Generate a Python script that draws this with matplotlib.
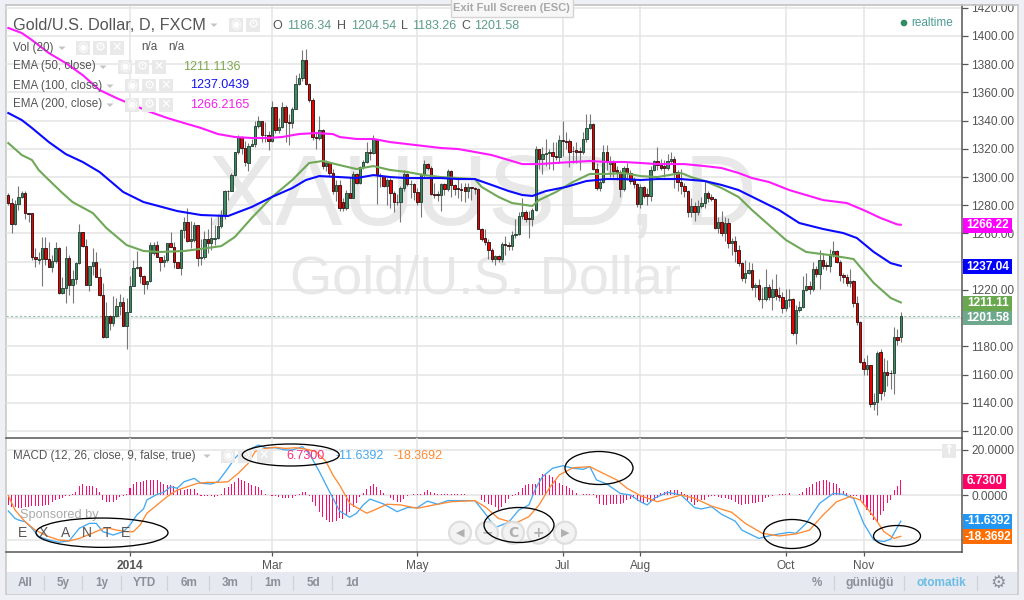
import matplotlib
matplotlib.use("Agg")
import matplotlib.pyplot as plt
from matplotlib.patches import Rectangle, Ellipse, Circle, Polygon
import numpy as np

plt.rcParams['font.family'] = ['Liberation Sans', 'DejaVu Sans']

# ---------- data ----------
opens = [1287.4,1281.5,1266.5,1280.8,1285.7,1288.6,1274.3,1274.3,1243,1241.5,
 1242,1250,1241.6,1236.4,1240.7,1250,1217.9,1221.7,1242.3,1223.8,
 1227.4,1238.8,1260.8,1251.1,1223.8,1237.1,1239.5,1229.3,1216.5,1186.6,
 1201.8,1196.8,1201.8,1208.9,1211.7,1194.4,1204.4,1222.9,1235.4,1236.6,
 1230,1224,1226.4,1245.9,1251.6,1243.5,1240,1241,1253,1250.6,
 1240,1235.7,1262.5,1268.4,1254.9,1255.4,1265.8,1242.3,1243,1255.8,
 1253,1256.4,1256.6,1265.6,1273.2,1290,1290,1301.2,1317.8,1328.2,
 1320.6,1310,1322,1323.5,1336.3,1339.6,1330,1329.7,1325.9,1349.8,
 1333.2,1335.6,1349.8,1338.9,1338.4,1348.4,1366.2,1370,1382.8,1366.2,
 1354.6,1328.2,1327.7,1333.5,1307.6,1309.9,1302.8,1289.8,1294.3,1282.5,
 1277.8,1288.4,1285.4,1302.1,1296,1307.3,1310.4,1317.5,1316.8,1326.7,
 1301.2,1300.7,1293.6,1297.9,1288.4,1282.5,1282,1292,1302.1,1295,
 1295,1289.6,1282.5,1302.1,1309,1306.6,1288,1287.9,1287.5,1295,
 1291.7,1304.5,1294.3,1291.9,1291.7,1293,1290.3,1292.7,1292,1291.5,
 1263.4,1256.5,1254,1248,1242,1244,1242,1252.3,1251.6,1251,
 1258.9,1259.4,1272.4,1275.4,1271,1270,1276.6,1319.6,1312.8,1316,
 1316.8,1318,1315,1314,1326.3,1325.5,1325.7,1318.5,1318.9,1318.4,
 1318,1326.7,1334.5,1337.6,1305.5,1292.5,1296.7,1318,1309,1311,
 1304.8,1303.7,1291.5,1306.2,1302.6,1297.9,1295,1280.9,1292.7,1287.7,
 1286.8,1305,1311.4,1308.5,1308,1306.6,1311.4,1312.6,1303.4,1296.8,
 1294,1290.4,1275.5,1279.7,1275.5,1279.7,1281.4,1288.9,1286,1284.2,
 1263.7,1268,1260,1267.2,1253.5,1254.7,1248.2,1239.3,1228.2,1231.7,
 1234,1221.8,1223.3,1213.6,1213.4,1221.8,1215.3,1221,1216.4,1214.8,
 1207,1212.9,1213.4,1189.7,1205.8,1207.7,1220,1222.8,1220.9,1234.6,
 1231,1241.2,1237.7,1237.2,1245.2,1247.6,1240,1230.6,1229,1225.2,
 1226.6,1210.5,1197.5,1169.2,1163.7,1166.6,1138.9,1140.3,1176.2,1148.7,
 1162,1161,1160.9,1186.9,1186.34]
closes = [1281.5,1266.5,1280.8,1285.7,1288.6,1274.3,1274,1243,1241.6,1242,
 1250,1241.6,1236.4,1240.7,1250,1217.9,1221.7,1242.3,1223.8,1227.4,
 1238.8,1260.8,1251.1,1223.8,1237.1,1239.5,1229.3,1216.5,1186.6,1201.8,
 1196.8,1201.8,1208.9,1211.7,1194.4,1204.4,1222.9,1235.4,1236.6,1230,
 1224,1226.4,1251.6,1251.6,1243.5,1240,1241.1,1253,1250.6,1240,
 1235.7,1262.5,1268.4,1254.9,1255.8,1265.8,1242.3,1243,1255.8,1253,
 1256.6,1256.6,1265.6,1273.2,1290,1289.8,1301.6,1317.8,1328.2,1320.6,
 1310.5,1322.3,1323.5,1336.3,1339.6,1330,1329.7,1325.9,1349.8,1333.2,
 1335.6,1349.8,1338.9,1338.4,1348.4,1366.2,1370,1382.8,1366.2,1354.6,
 1328.2,1327.5,1333.5,1307.6,1309.8,1302.8,1289.8,1294.5,1277.8,1277.8,
 1288.4,1285.4,1302.1,1296,1307.3,1310.4,1317.5,1316.8,1326.7,1301.2,
 1300.7,1293.6,1297.9,1288.4,1282.5,1282,1292,1302.1,1295,1295.4,
 1289.6,1282.5,1302.1,1309,1306.6,1288,1287.5,1287.5,1295,1291.7,
 1304.5,1294.3,1291.7,1291.5,1291,1290.3,1292.7,1292,1291.5,1263.4,
 1256,1254,1248,1242,1244,1242,1252.3,1251.6,1251,1258.9,
 1259.4,1272.4,1275.4,1270,1270,1276.6,1319.6,1312.8,1316,1317.2,
 1318,1315,1314.4,1326.3,1325.5,1325,1318,1318.4,1318,1318,
 1326.7,1334.5,1337.6,1305.5,1292.5,1296.7,1318,1310.9,1311,1304.5,
 1303.3,1291.5,1306.2,1302.6,1297.2,1295,1280.9,1292.7,1286.8,1286.8,
 1305,1311.4,1308.5,1306.6,1306.6,1311.4,1312.6,1303.4,1296.8,1293.7,
 1290.4,1275.5,1279.7,1275.5,1279.7,1281.4,1288.5,1285,1284.2,1263.7,
 1268,1260.1,1267.2,1253.5,1254.7,1247.9,1239.3,1228.2,1231.7,1234,
 1221.8,1223.3,1213.4,1213.4,1221.8,1215.3,1221,1215.7,1214.8,1207,
 1212.9,1213.4,1189.7,1205.8,1207.7,1220,1222.8,1220.9,1234.6,1231,
 1241.2,1237.2,1237.2,1245.2,1247.6,1240,1230.6,1229,1225.2,1226.6,
 1210.5,1197.5,1169.2,1163.7,1166.6,1138.9,1140.3,1175,1146.7,1162,
 1160,1160.9,1186.9,1184.5,1201.58]
highs = [1288.6,1285,1284,1293.8,1289.8,1290,1274.8,1274.5,1249.4,1247,
 1257.5,1257.3,1254.2,1244.7,1254.2,1250.2,1229,1251,1244.7,1234,
 1240,1266.5,1261.3,1256,1237.1,1249.4,1246.6,1235.2,1225,1211.5,
 1202,1215.5,1214.3,1217.4,1215,1214.5,1229.8,1241,1247.6,1237,
 1230.5,1226.5,1254.2,1254,1254.7,1243.6,1244.7,1253.2,1261.3,1254.2,
 1240,1263,1272,1278,1269,1268,1266,1256,1262,1263,
 1272,1266,1273,1277,1290.5,1291,1303,1318,1330,1329,
 1325.4,1324,1327,1340,1343,1340,1339,1333,1354,1350,
 1342,1353,1351,1345,1350,1372,1374,1390,1391,1367,
 1356,1331,1343,1334,1312,1310,1306,1298,1298,1285,
 1291,1300,1304,1303,1308,1312,1325,1320,1330,1327,
 1303,1301,1299,1299,1290,1288,1294,1305,1303,1298,
 1296,1292,1303,1312,1310,1308,1296,1290,1296,1296,
 1306,1305,1295,1299,1296,1296,1296,1293,1293,1292,
 1264,1263,1256,1250,1245,1245,1254,1258,1254,1262,
 1270,1275,1285,1277,1276,1278,1322,1320,1321,1327,
 1320,1325,1325,1330,1340,1332,1327,1322,1325,1321,
 1332,1345,1345,1338,1310,1298,1323,1323,1315,1312,
 1308,1305,1308,1310,1305,1300,1296,1295,1294,1292,
 1308,1312,1321,1313,1312,1316,1318,1315,1305,1306,
 1296,1291,1285,1282,1284,1286,1297,1290,1288,1285,
 1272,1276,1272,1271,1257,1258,1252,1240,1241,1240,
 1239,1225,1228,1222,1235,1224,1228,1231,1222,1218.8,
 1221,1221,1214,1209,1212,1230,1232,1226,1240,1237,
 1248,1246,1240,1249,1254.5,1248,1241,1232,1231,1235,
 1227,1216,1198,1172,1174,1167,1147,1177,1178,1172,
 1170,1163,1194,1192,1204.54]
lows = [1280,1260.6,1266,1276.7,1285,1270,1268.4,1241,1236,1238.3,
 1222.9,1237.6,1236,1232.8,1238.8,1217,1217,1210.8,1216.2,1210.8,
 1224,1238.3,1250.6,1223.4,1219.3,1230.5,1229,1215.5,1186,1186,
 1191.3,1194.4,1200.8,1202,1194.2,1178.3,1204.4,1222.6,1235,1225.2,
 1217.4,1221,1225.8,1245,1243.3,1233.5,1236.4,1240,1250.4,1235.2,
 1235.2,1230.5,1256.6,1254.2,1250,1254,1237.3,1237.6,1242,1246,
 1248,1252,1256,1264,1270,1284,1289.8,1301,1316,1316,
 1307.6,1304,1322,1321,1335,1325,1325,1319,1325,1331,
 1331,1335,1325,1323,1335,1348,1365,1368,1365,1353,
 1326,1320,1326,1306,1304,1301,1288,1283,1276,1276,
 1277,1285,1285,1295,1295,1306,1310,1312,1316,1281,
 1293,1293,1280,1278,1275,1280,1268,1290,1294,1285,
 1284,1280,1272,1300,1305,1287,1285,1283,1276,1287,
 1290,1286,1287,1285,1283,1282,1285,1284,1288,1263,
 1255,1252,1242,1240,1238,1240,1240,1245,1248,1248,
 1257,1259,1270,1268,1257,1265,1276,1306,1302,1308,
 1306,1305,1312,1310,1315,1320,1307,1310,1310,1305,
 1316,1325,1334,1305,1291,1290,1296,1305,1300,1300,
 1298,1286,1290,1298,1295,1292,1279,1278,1285,1280,
 1283,1304,1305,1305,1300,1305,1310,1292,1290,1288,
 1286,1272,1272,1269,1273,1278,1278,1282,1283,1263,
 1260,1258,1255,1250,1245,1240,1237,1226,1225,1231,
 1220,1215,1212,1207,1212,1213,1206,1213,1212,1203.4,
 1205,1208,1188,1182,1204,1207,1219,1217,1219,1229,
 1221,1235,1234,1233,1243,1239,1226,1225,1223,1222,
 1208,1195,1168,1160,1160,1137,1135,1131,1142,1145,
 1152,1150,1146,1181,1183.26]

ema200_x = [0,4,7,12,17,22,27,32,37,42,47,52,57,62,67,72,77,81,86,91,96,98,103,108,113,118,123,128,133,138,143,148,152,157,162,167,172,177,182,187,192,197,200,206,211,216,220,225,231,241,248,253,258,263,264]
ema200_y = [1405.7,1402.1,1397.1,1387.9,1380.8,1372.3,1361.7,1356,1351,1346.1,1341.9,1338.3,1334.8,1330.5,1328.4,1327.7,1327.7,1328.4,1330.5,1331.2,1330.5,1328.4,1327,1327,1324.8,1323.4,1322,1320.6,1319.9,1317.8,1315.6,1312.1,1309.2,1309.2,1310,1310.7,1311.4,1310.7,1310.7,1310,1309.2,1309.2,1309.2,1307.8,1306.4,1302.9,1299.3,1296.5,1290.8,1283.7,1281.6,1276.6,1271,1266.4,1266.2]
ema100_x = [0,4,7,12,17,22,27,34,40,50,57,65,72,78,84,88,92,98,103,108,113,118,123,128,133,138,143,148,152,155,159,165,171,177,182,187,192,199,206,211,216,222,228,234,241,247,251,256,261,264]
ema100_y = [1345.4,1340.4,1334.8,1324.8,1316.3,1310.7,1303.6,1289.4,1282.3,1275.9,1273.1,1272.4,1278.8,1285.9,1292.2,1297.9,1300.7,1300,1299.3,1301.4,1300,1299.3,1299.3,1299.3,1298.6,1298.6,1294.4,1290.1,1287.3,1286.6,1290.1,1293,1297.2,1298.6,1298.6,1297.9,1298.6,1298.6,1297.2,1294.4,1290.8,1283.7,1276.6,1267.4,1263.2,1260.3,1256.8,1246.9,1239,1237.04]
ema50_x = [0,4,7,9,12,16,19,25,29,35,40,45,52,59,63,67,72,78,84,89,93,98,103,108,113,118,123,128,133,138,140,145,149,155,157,162,167,172,177,182,187,192,199,202,206,211,216,220,225,230,236,243,250,256,261,264]
ema50_y = [1324.1,1315.6,1312.1,1305,1297.9,1288.7,1282.3,1274.5,1263.9,1251.8,1247.6,1246.9,1247.6,1249.7,1251.1,1257.5,1271,1285.9,1297.9,1310,1311.4,1308.5,1305.7,1307.8,1305,1303.6,1301.4,1300,1299.3,1298.6,1293,1285.9,1281.6,1279.5,1283.7,1289.4,1296.5,1302.2,1302.2,1302.9,1300.7,1300,1302.9,1300,1297.2,1292.2,1285.9,1276.6,1266,1255.4,1246.9,1244.7,1241.9,1224.9,1214.3,1211.11]

macd_x = [0,2,3,5,7,9,12,15,18,21,24,26,28,31,34,36,38,40,41,44,46,48,50,52,55,57,60,62,65,67,69,71,74,76,79,82,84,87,89,92,95,98,101,103,105,107,111,115,118,121,124,127,130,134,138,141,144,148,151,154,156,158,161,164,167,170,172,174,177,181,184,187,189,191,195,199,203,205,208,211,215,217,222,226,231,233,236,240,244,247,250,253,256,259,261,264]
macd_y = [-7.1,-10.4,-11.1,-11.9,-14.8,-18.5,-20,-21,-20.4,-14.8,-12.6,-12.6,-16.3,-17.8,-16.3,-13.3,-8.9,-6.2,-2.2,0.3,1.2,3.7,3,5.9,7.4,5.2,4.9,5.9,11.9,16.3,19.3,20,22.2,21,21,20,20,21.5,18.5,10.4,1.5,-7.1,-9.9,-8.1,-4.4,-1.8,-4,-7.4,-5.6,-5.6,-2.7,-4.1,-2.5,-2.5,-2.5,-8.1,-14.5,-12.1,-6.7,-4.4,3,8.1,11.9,13,11.9,11.4,12.6,6.7,4.9,0.7,0,-3,-4.4,-1.5,1.2,0,-5.6,-6.2,-5.2,-8.6,-11.6,-15.6,-19.3,-17.8,-16.6,-17,-12.6,-3.7,0.7,0.3,-1.5,-12.6,-20,-20.7,-19.6,-11.64]
signal_x = [0,2,5,8,12,15,18,21,24,27,29,32,35,37,39,41,44,47,50,53,56,59,62,65,68,71,73,76,79,82,85,88,91,94,96,98,101,106,109,112,116,121,126,131,138,141,145,150,154,157,160,163,167,172,176,180,183,187,192,199,203,208,214,218,223,228,233,237,241,245,249,252,256,259,262,264]
signal_y = [-0.3,-6.7,-11.9,-15.6,-18.5,-20,-20.4,-19.3,-17.5,-15.6,-14.5,-15.6,-16.3,-16.3,-13.3,-8.1,-4.4,-0.7,2.2,3.7,5.2,5.6,5.6,5.9,9.6,14.1,19.3,20.7,21.2,20.7,21,20.4,19.3,14.8,8.9,4.4,-3.7,-8.1,-6.2,-4.1,-4.4,-5.9,-4.4,-3,-2.5,-5.2,-10.4,-12.6,-9.6,-4.4,3,8.9,12.1,12.6,9.6,6.7,3,-0.3,-3,0,-1.5,-4.9,-7.7,-12.6,-17,-18.2,-17.3,-15.6,-8.9,-3,-0.7,-2.2,-9.6,-16.3,-19.3,-18.37]
hist_vals = [-4.4,-5.2,-5.2,-5.6,-5.6,-5.3,-5.3,-5,-5,-5,
 -4.7,-4.4,-4.4,-3.3,-2.1,-1.8,-1.5,-0.6,-0.3,0.3,
 1.2,3.9,4.7,4.1,3.9,3.9,3.3,1.2,-2.1,-3,
 -3.3,-3.3,-2.1,-0.9,-0.3,0.3,3.3,4.7,5.6,5.9,
 6.2,6.5,6.5,6.8,6.5,5.6,5,4.4,4.4,3.9,
 3.3,2.7,2.4,2.7,2.7,2.7,0.9,-0.3,-0.6,-0.6,
 -0.6,-0.9,-0.3,0.3,3,3.6,4.7,5.9,7.7,6.8,
 6.2,5.3,4.4,4.1,3.6,2.4,0.3,0,-0.3,-0.6,
 -0.9,-1.2,-1.5,-1.5,-1.2,-0.6,0.6,1.5,1.2,-0.3,
 -3.3,-5,-7.4,-9.8,-11.3,-11.9,-11.9,-11.6,-10.1,
 -10.7,-9.2,-7.4,-5.3,-3.6,-0.9,0.9,2.7,3.9,4.7,
 3.6,2.1,0.9,0,-1.2,-2.4,-3,-3,-1.8,-0.6,
 0,0.3,0.3,0.3,1.5,2.4,1.5,0.9,0.3,0.3,
 0.3,0.3,0.6,0.3,0.3,0.3,0.3,0,0,0,
 0,-2.4,-3.3,-3.9,-4.4,-5.3,-6.5,-5.3,-3.6,-1.8,
 -0.3,0.3,1.5,3.3,4.4,4.7,4.7,4.7,7.7,9.2,
 9.5,8.9,8,6.5,5.3,4.4,3.9,3.3,2.4,0.9,
 0,0.3,0.3,0.3,0.3,-1.5,-3.9,-4.4,-4.4,-4.1,
 -4.1,-4.1,-3.9,-3.6,-2.4,-1.8,-1.5,-2.7,-3,-3.6,
 -3,-3,-2.4,-1.5,0.9,1.2,1.8,2.1,2.4,2.1,
 1.2,0.3,
 -2.1,-3.3,-4.4,-3.3,-2.4,-2.1,-0.9,-0.6,-0.3,-0.9,
 -1.2,-1.2,-1.8,-2.1,-3,-4.1,-4.4,-4.1,-3.9,-3.6,
 -3.6,-3.3,-3,-1.5,-0.9,-0.3,0,0.3,0.3,0.3,
 0.9,0,0,0.3,1.5,3,3.6,5,5.6,6.2,
 6.5,6.5,5.9,5.3,4.7,3.3,1.8,0.9,-0.3,-0.3,
 -0.6,-2.1,-4.4,-6.5,-8.9,-11.3,-11.9,-8.9,-7.1,-3.6,
 -2.1,2.1,3.9,6.73]

price_ticks = list(range(1120, 1421, 20))
# 1200 and 1240 sit fully behind the price tags in the reference
price_labels = ['' if p in (1200, 1240) else '%.2f' % p for p in price_ticks]
macd_ticks = [-20, 0, 20]
macd_tick_labels = ['', '0.0000', '20.0000']
date_pos = [36, 78, 121, 164, 187, 230, 253]
date_labels = ['2014', 'Mar', 'May', 'Jul', 'Aug', 'Oct', 'Nov']
last_price = 1201.58

W, H = 1024, 600
def axes_px(l, t, r, b):
    return [l / W, 1 - b / H, (r - l) / W, (b - t) / H]

fig = plt.figure(figsize=(10.24, 6), dpi=100, facecolor='#eef0f5')

# ---- background ----
bg = fig.add_axes([0, 0, 1, 1], zorder=0)
bg.set_xlim(0, W); bg.set_ylim(H, 0); bg.axis('off')
bg.add_patch(Rectangle((6, 5), 1012, 589, fc='white', ec='#c9c9c9', lw=1.2))
bg.add_patch(Rectangle((6.6, 572), 1010.8, 21.5, fc='#e6e9ef', ec='none'))

# watermarks sit under the grid and candles
WM = '#e8e8e8'
bg.text(482, 199, 'XAUUSD, D', fontsize=72.5, color=WM, ha='center', va='center')
bg.text(485, 279, 'Gold/U.S. Dollar', fontsize=39, color=WM, ha='center', va='center')

GRID = '#e4e4e4'; AXC = '#555555'; TXT = '#555555'

# ---- price panel ----
ax = fig.add_axes(axes_px(6, 5, 962, 438), zorder=1)
ax.patch.set_alpha(0)
ax.set_xlim(-0.68, 282.1)
ax.set_ylim(1400 - 402 / 1.4107, 1400 + 31 / 1.4107)
ax.set_yticks(price_ticks); ax.set_yticklabels(price_labels)
ax.set_xticks(date_pos); ax.set_xticklabels([])
ax.yaxis.tick_right()
ax.tick_params(axis='y', length=4, width=0.9, color=AXC, labelcolor=TXT, labelsize=8.6, pad=2.5)
ax.tick_params(axis='x', length=0)
ax.grid(True, color=GRID, lw=1.1); ax.set_axisbelow(True)
for s in ('top', 'left'):
    ax.spines[s].set_visible(False)
for s in ('right', 'bottom'):
    ax.spines[s].set_color(AXC); ax.spines[s].set_linewidth(1.1)

ax.axhline(last_price, color='#8cc3ab', lw=0.8, ls=(0, (2, 2)), zorder=1.5)

idx = np.arange(len(opens))
o = np.array(opens); c = np.array(closes); hi = np.array(highs); lo = np.array(lows)
ax.vlines(idx, lo, hi, color='#777777', lw=0.8, zorder=2)
up = c >= o
ax.bar(idx[up], (c - o)[up], bottom=o[up], width=0.7, color='#3f8a63', edgecolor='#2e4a3c', lw=0.7, zorder=3)
ax.bar(idx[~up], (c - o)[~up], bottom=o[~up], width=0.7, color='#ee0000', edgecolor='#3a1a1a', lw=0.7, zorder=3)

ax.plot(ema50_x, ema50_y, color='#6fa858', lw=1.5, zorder=4, solid_joinstyle='round')
ax.plot(ema100_x, ema100_y, color='#0a0aff', lw=1.5, zorder=4, solid_joinstyle='round')
ax.plot(ema200_x, ema200_y, color='#ff1aff', lw=1.5, zorder=4, solid_joinstyle='round')

# ---- MACD panel ----
mx = fig.add_axes(axes_px(6, 438, 962, 551.5), zorder=1)
mx.patch.set_alpha(0)
mx.set_xlim(-0.68, 282.1)
mx.set_ylim((495 - 551.5) / 2.25, (495 - 438) / 2.25)
mx.set_yticks(macd_ticks); mx.set_yticklabels(macd_tick_labels)
mx.set_xticks(date_pos); mx.set_xticklabels(date_labels)
mx.yaxis.tick_right()
mx.tick_params(axis='y', length=4, width=0.9, color=AXC, labelcolor=TXT, labelsize=8.6, pad=2.5)
mx.tick_params(axis='x', length=3, width=0.9, color=AXC, labelcolor=TXT, labelsize=8.6, pad=3)
mx.get_xticklabels()[0].set_fontweight('bold')
mx.grid(True, color=GRID, lw=1.1); mx.set_axisbelow(True)
for s in ('top', 'left'):
    mx.spines[s].set_visible(False)
for s in ('right', 'bottom'):
    mx.spines[s].set_color(AXC); mx.spines[s].set_linewidth(1.1)
mx.bar(np.arange(len(hist_vals)), hist_vals, width=0.3, color='#ff0a6c', zorder=2)
mx.plot(macd_x, macd_y, color='#45a9f2', lw=0.95, zorder=3)
mx.plot(signal_x, signal_y, color='#ff8a33', lw=0.95, zorder=3)

# ---- overlay in pixel space ----
ov = fig.add_axes([0, 0, 1, 1], zorder=5)
ov.set_xlim(0, W); ov.set_ylim(H, 0); ov.axis('off'); ov.patch.set_alpha(0)
ov.add_patch(Rectangle((0, 0), W, 4.4, fc='#eef0f5', ec='none', zorder=0.1))
ov.plot([6, 1018], [5, 5], color='#c9c9c9', lw=1.2, zorder=0.2)

def T(x, y, s, size=8.4, color=TXT, ha='left', weight='normal', z=3, **kw):
    ov.text(x, y, s, fontsize=size, color=color, ha=ha, va='center', fontweight=weight, zorder=z, **kw)

# legend
T(13, 25, 'Gold/U.S. Dollar, D, FXCM', size=11.7)
T(13, 47.5, 'Vol (20)'); T(13, 66.5, 'EMA (50, close)')
T(13, 85.5, 'EMA (100, close)'); T(13, 104.5, 'EMA (200, close)')
T(141, 47.5, 'n/a'); T(168, 47.5, 'n/a')
T(183, 66.5, '1211.1136', size=9, color='#7fa64f')
T(190, 85.5, '1237.0439', size=9, color='#1414f0')
T(190, 104.5, '1266.2165', size=9, color='#f020f0')

def tri(x, y):
    ov.add_patch(Polygon([(x - 3.5, y - 1.5), (x + 3.5, y - 1.5), (x, y + 2)], fc='#c4c4c4', ec='none', zorder=3))
for x, y in [(214, 25), (62, 48), (103, 67), (110, 86), (110, 105), (207, 456)]:
    tri(x, y)

def icons(xs, y, glyphs):
    for x, g in zip(xs, glyphs):
        ov.add_patch(Rectangle((x, y), 14, 14, fc='#e9e9e9', ec='none', zorder=2))
        T(x + 7, y + 6.8, g, size=9, color='white', ha='center', weight='bold', family='DejaVu Sans')
EYE, GEAR, CROSS = '\u25c9', '\u2699', '\u2715'
icons([229, 246], 18, [EYE, GEAR])
icons([76, 93, 110], 41, [EYE, GEAR, CROSS])
icons([118, 135, 152], 60, [EYE, GEAR, CROSS])
icons([125, 142, 159], 79, [EYE, GEAR, CROSS])
icons([125, 142, 159], 98, [EYE, GEAR, CROSS])
icons([221, 238, 257], 449, [EYE, GEAR, CROSS])
icons([942], 444, ['\u2191'])

# OHLC header
VAL = '#5c9f86'
for x, s in [(272, 'O'), (337, 'H'), (401, 'L'), (461, 'C')]:
    T(x, 26, s, size=9)
for x, s in [(287, '1186.34'), (351, '1204.54'), (412, '1183.26'), (474, '1201.58')]:
    T(x, 26, s, size=9, color=VAL)

# realtime + exit tab
ov.add_patch(Circle((904, 23), 3.3, fc='#2e8b62', ec='none', zorder=3))
T(911, 23, 'realtime', size=8.5, color='#4d9b93')
ov.add_patch(Rectangle((450.5, -2), 122, 19, fc='#f7f7f7', ec='#d5d5d5', lw=1, zorder=2))
T(511, 8, 'Exit Full Screen (ESC)', size=8, color='#a8a8a8', ha='center', weight='bold')

# price tags
def tag(y0, y1, x1, s, col):
    ov.add_patch(Rectangle((962.7, y0), x1 - 962.7, y1 - y0, fc=col, ec='none', zorder=2))
    T((962.7 + x1) / 2 + 0.5, (y0 + y1) / 2, s, size=8.6, color='white', ha='center', weight='bold')
tag(218, 233, 1012, '1266.22', '#ff00ff')
tag(259, 274, 1012, '1237.04', '#0000ff')
tag(296, 310.5, 1012, '1211.11', '#6aa84f')
tag(310.5, 325, 1012, '1201.58', '#6fa98d')
tag(474, 489, 1006, '6.7300', '#ff0066')
tag(514, 529, 1012, '-11.6392', '#2196f3')
tag(529, 544, 1012, '-18.3692', '#ff6d00')

# MACD legend
T(13, 455.5, 'MACD (12, 26, close, 9, false, true)')
T(286, 456, '6.7300', size=9, color='#ff2a7a')
T(335, 456, '-11.6392', size=9, color='#45a9f2')
T(393, 456, '-18.3692', size=9, color='#ff8a33')

# sponsor
T(20, 515, 'Sponsored by', size=9.2, color='#aaaaaa')
for x, s in zip([22.7, 43, 65.7, 86.7, 106.7, 126], 'EXANTE'):
    T(x, 532.7, s, size=10, color='#555555', ha='center')

# nav buttons
for x, s in zip([460, 487, 513, 538.5, 565], ['\u25c0', '\u2212', 'C', '+', '\u25b6']):
    ov.add_patch(Circle((x, 532.7), 11, fc='#f2f2f2', ec='#dcdcdc', lw=1.6, zorder=2, alpha=0.9))
    T(x, 532.7, s, size=10 if s in 'C+\u2212' else 8, color='#b0b0b0', ha='center', weight='bold', family='DejaVu Sans')

# ellipses
for cx, cy, w, h in [(102, 532.7, 132, 29.3), (290.7, 455, 97, 22), (519, 525, 70, 35),
                     (599, 468, 68, 33), (792, 534, 57, 29), (897, 536, 47, 21)]:
    ov.add_patch(Ellipse((cx, cy), w, h, fc='none', ec='black', lw=0.95, zorder=4))

# toolbar
BT = '#8a8f98'
for x, s in zip([25.3, 63.5, 102, 144, 189, 230, 273, 313, 352],
                ['All', '5y', '1y', 'YTD', '6m', '3m', '1m', '5d', '1d']):
    T(x, 583, s, size=8.4, color=BT, ha='center', weight='bold')
T(817, 583, '%', size=8.4, color=BT, ha='center', weight='bold')
T(870, 583, 'günlüğü', size=8.8, color=BT, ha='center', weight='bold')
T(941.7, 583, 'otomatik', size=8.6, color='#6cbde6', ha='center', weight='bold')
T(997.7, 582.5, '\u2699', size=12.5, color='#8a8f98', ha='center', family='DejaVu Sans')
for x in [44.3, 82, 120.7, 167, 209, 251, 293, 332, 834, 904, 977]:
    ov.plot([x, x], [576, 590], color='#cfd2d8', lw=0.9, zorder=2)

fig.savefig('out.png', dpi=100, facecolor=fig.get_facecolor())
